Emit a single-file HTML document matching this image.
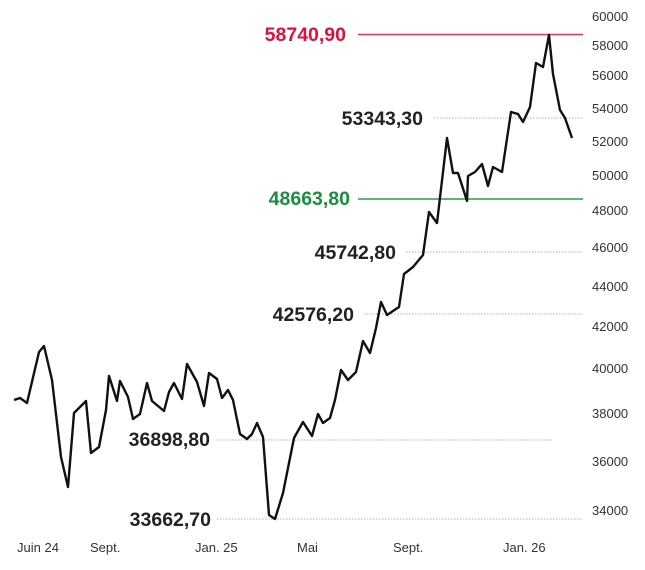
<!DOCTYPE html><html><head><style>body{margin:0;background:#fff}</style></head><body>
<svg width="645" height="565" xmlns="http://www.w3.org/2000/svg" font-family="Liberation Sans, sans-serif">
<g stroke="#999" stroke-width="0.8" stroke-dasharray="1.5,1.5">
<line x1="434" y1="118" x2="582" y2="118"/>
<line x1="406" y1="252" x2="582" y2="252"/>
<line x1="364" y1="314" x2="582" y2="314"/>
<line x1="217" y1="440" x2="553" y2="440"/>
<line x1="217" y1="519" x2="582" y2="519"/>
</g>
<line x1="358" y1="34.5" x2="583" y2="34.5" stroke="#e8335a" stroke-width="1.5"/>
<line x1="358" y1="199" x2="583" y2="199" stroke="#2a9a48" stroke-width="1.5"/>
<polyline fill="none" stroke="#111" stroke-width="2.4" stroke-linejoin="round" points="14,400 20,398 27,403 39,352 44,346 52,380 61,457 68,487 74,413 86,401 91,453 99,447 106,410 109,376 117,401 120,381 128,397 133,419 140,414 147,383 152,401 164,411 169,392 174,383 182,399 187,364 197,382 204,406 209,373 217,379 222,398 228,390 233,400 240,434 247,439 252,434 257,423 263,437 269,515 275,519 283,493 294,438 303,422 312,436 318,414 323,423 330,418 335,400 341,370 348,380 356,372 363,341 370,353 376,328 381,302 387,315 399,307 404,274 413,267 423,255 429,212 437,223 447,138 453,173 458,173 467,201 468,176 475,172 482,164 488,186 493,167 502,172 511,112 518,114 523,122 530,107 536,63 543,67 549,35 553,74 560,110 565,118 572,138"/>
<g font-size="19.5" font-weight="bold" text-anchor="end">
<text x="346" y="41" fill="#e0103a">58740,90</text>
<text x="423" y="125" fill="#222">53343,30</text>
<text x="350" y="205" fill="#1a8f3a">48663,80</text>
<text x="396" y="259" fill="#222">45742,80</text>
<text x="354" y="321" fill="#222">42576,20</text>
<text x="210" y="446" fill="#222">36898,80</text>
<text x="211" y="526" fill="#222">33662,70</text>
</g>
<g font-size="13" fill="#333">
<text x="592" y="21">60000</text><text x="592" y="50">58000</text><text x="592" y="80">56000</text><text x="592" y="113">54000</text><text x="592" y="146">52000</text><text x="592" y="180">50000</text><text x="592" y="215">48000</text><text x="592" y="252">46000</text><text x="592" y="291">44000</text><text x="592" y="331">42000</text><text x="592" y="373">40000</text><text x="592" y="418">38000</text><text x="592" y="466">36000</text><text x="592" y="515">34000</text>
</g>
<g font-size="13" fill="#333">
<text x="17" y="552">Juin 24</text><text x="90" y="552">Sept.</text><text x="195" y="552">Jan. 25</text><text x="297" y="552">Mai</text><text x="393" y="552">Sept.</text><text x="503" y="552">Jan. 26</text>
</g>
</svg></body></html>
